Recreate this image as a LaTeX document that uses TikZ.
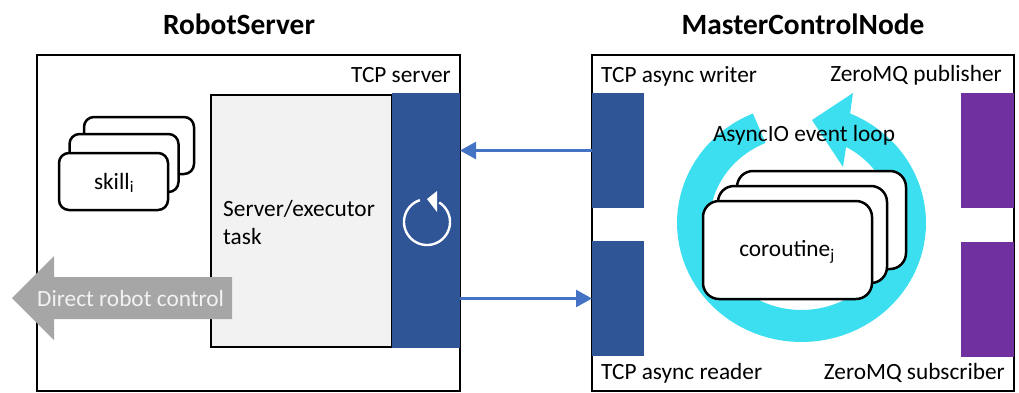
\documentclass[tikz,border=0pt]{standalone}
\usepackage{fontspec}
\setmainfont{Carlito}
\usetikzlibrary{arrows.meta}
\tikzset{
  frame/.style={draw=black,line width=2.6pt,fill=white,inner sep=0,outer sep=0},
  task/.style={draw=black,line width=2.6pt,fill=black!5,inner sep=0,outer sep=0},
  blueblock/.style={fill=blockblue,inner sep=0,outer sep=0},
  purpleblock/.style={fill=blockpurple,inner sep=0,outer sep=0},
  card/.style={draw=black,line width=2.5pt,fill=white,rounded corners=#1,inner sep=0,outer sep=0},
  title/.style={font=\fontsize{29.4}{34}\selectfont\bfseries,inner sep=0},
  lab/.style={font=\fontsize{23.3}{27}\selectfont,inner sep=0},
  link/.style={draw=linkblue,line width=2.5pt,-{Triangle[length=16pt,width=17pt]}},
}
\definecolor{blockblue}{HTML}{2F5597}
\definecolor{blockpurple}{HTML}{7030A0}
\definecolor{linkblue}{HTML}{4472C4}
\definecolor{loopcyan}{HTML}{3CDFF0}
\definecolor{robotgray}{HTML}{A6A6A6}
\begin{document}
\begin{tikzpicture}[x=1pt,y=-1pt]
\useasboundingbox (0,0) rectangle (1019,392);
% titles
\node[title] (ttlA) at (239,24) {RobotServer};
\node[title] (ttlB) at (803,24) {MasterControlNode};
% left frame
\node[frame,minimum width=423pt,minimum height=336pt] (robot) at (248.5,223) {};
\node[task,minimum width=181pt,minimum height=252pt] (tasksq) at (301.5,221) {};
\node[lab,align=left,anchor=west] (tasktxt) at (223,222) {Server/executor\\[1pt]task};
% skills
\node[card=10pt,minimum width=110pt,minimum height=57pt] (sk3) at (139,145.5) {};
\node[card=10pt,minimum width=109pt,minimum height=58pt] (sk2) at (124,163) {};
\node[card=10pt,minimum width=109pt,minimum height=57pt] (sk1) at (113.5,181.5) {};
\node[lab] (sktxt) at (114,183) {skill\textsubscript{i}};
% direct control arrow
\fill[robotgray] (12,298) -- (54,256) -- (54,277) -- (232,277) -- (232,319) -- (54,319) -- (54,340) -- cycle;
\node[lab,text=black!5,anchor=west] (direct) at (37,298) {Direct robot control};
% TCP server
\node[blueblock,minimum width=68pt,minimum height=255pt] (srv) at (426,220.5) {};
\draw[white,line width=2.4pt] plot[domain=252:-58,samples=60] ({427+23*cos(\x)},{222+23*sin(\x)});
\fill[white] (427,199) -- (437,191) -- (437,212) -- cycle;
\node[lab,anchor=east] (srvtxt) at (451,75) {TCP server};
% right frame
\node[frame,minimum width=422pt,minimum height=336pt] (master) at (803,223) {};
\node[blueblock,minimum width=52pt,minimum height=115pt] (writer) at (618,150.5) {};
\node[blueblock,minimum width=52pt,minimum height=115pt] (reader) at (618,298.5) {};
\node[purpleblock,minimum width=53pt,minimum height=115pt] (pub) at (987.5,150.5) {};
\node[purpleblock,minimum width=53pt,minimum height=115pt] (sub) at (987.5,299) {};
\node[lab,anchor=west] (wtxt) at (601,76) {TCP async writer};
\node[lab,anchor=west] (rtxt) at (601,373) {TCP async reader};
\node[lab,anchor=east] (ptxt) at (1002,75) {ZeroMQ publisher};
\node[lab,anchor=east] (stxt) at (1005,373) {ZeroMQ subscriber};
% loop
\fill[loopcyan]
  plot[domain=-67:247,samples=90] ({801.5+124.5*cos(\x)},{223+119*sin(\x)})
  -- plot[domain=247:-61,samples=90] ({801.5+92*cos(\x)},{223+87*sin(\x)})
  -- (843,167) -- (812,120) -- (853,93) -- cycle;
\node[card=16pt,minimum width=169pt,minimum height=98pt] (co3) at (821.5,220) {};
\node[card=16pt,minimum width=169pt,minimum height=97pt] (co2) at (802.5,234.5) {};
\node[card=16pt,minimum width=169pt,minimum height=98pt] (co1) at (787.5,250) {};
\node[lab] (cotxt) at (787,252) {coroutine\textsubscript{j}};
\node[lab] (looptxt) at (804,135) {AsyncIO event loop};
% links
\draw[link] (writer.west) -- (writer.west -| srv.east);
\draw[link] (reader.west -| srv.east) -- (reader.west);
\end{tikzpicture}
\end{document}
